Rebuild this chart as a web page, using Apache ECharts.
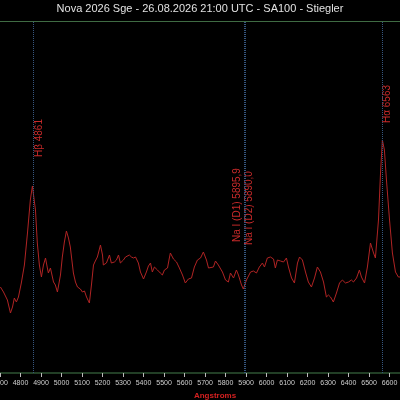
<!DOCTYPE html>
<html>
<head>
<meta charset="utf-8">
<script src="https://cdn.jsdelivr.net/npm/echarts@6/dist/echarts.min.js"></script>
<style>
  html, body { margin: 0; padding: 0; background: #000; }
  #nova-spectrum { width: 400px; height: 400px; }
</style>
</head>
<body>
<div id="nova-spectrum"></div>
<script>
// wavelength (Angstrom) and relative flux
var wavelengths = [
  4702, 4717, 4736, 4751, 4761, 4770, 4780, 4790, 4804, 4819, 4834, 4848, 4858, 4863, 4873, 4882,
  4892, 4902, 4912, 4922, 4931, 4936, 4946, 4951, 4961, 4970, 4980, 4995, 5004, 5014, 5024, 5034,
  5043, 5058, 5068, 5078, 5092, 5102, 5112, 5122, 5136, 5146, 5156, 5165, 5175, 5190, 5200, 5204,
  5219, 5234, 5243, 5258, 5268, 5278, 5287, 5302, 5312, 5321, 5331, 5341, 5351, 5361, 5375, 5385,
  5400, 5414, 5424, 5434, 5443, 5453, 5468, 5482, 5492, 5502, 5517, 5526, 5531, 5546, 5561, 5575,
  5590, 5604, 5619, 5634, 5648, 5663, 5678, 5692, 5707, 5717, 5726, 5741, 5751, 5765, 5785, 5800,
  5814, 5824, 5839, 5853, 5863, 5878, 5887, 5902, 5922, 5936, 5951, 5965, 5980, 5990, 6004, 6019,
  6034, 6043, 6053, 6068, 6083, 6097, 6107, 6122, 6136, 6151, 6161, 6175, 6190, 6204, 6219, 6234,
  6248, 6263, 6278, 6292, 6302, 6312, 6326, 6341, 6356, 6370, 6385, 6400, 6414, 6424, 6439, 6453,
  6463, 6478, 6492, 6507, 6522, 6531, 6546, 6556, 6565, 6575, 6585, 6600, 6614, 6629, 6643, 6653
];
var flux = [
  0.86, 0.81, 0.73, 0.60, 0.66, 0.75, 0.71, 0.76, 0.90, 1.08, 1.40, 1.73, 1.87, 1.85, 1.63, 1.30,
  1.08, 0.96, 1.08, 1.15, 1.05, 1.00, 1.05, 1.03, 0.91, 0.88, 0.81, 0.98, 1.16, 1.31, 1.42, 1.35,
  1.26, 1.00, 0.91, 0.86, 0.84, 0.81, 0.82, 0.76, 0.70, 0.88, 1.08, 1.12, 1.16, 1.28, 1.18, 1.08,
  1.10, 1.18, 1.10, 1.11, 1.13, 1.18, 1.10, 1.13, 1.16, 1.15, 1.18, 1.16, 1.15, 1.16, 1.10, 1.01,
  0.94, 1.01, 1.07, 1.10, 1.01, 1.06, 1.03, 1.00, 0.98, 1.03, 1.05, 1.15, 1.20, 1.14, 1.11, 1.05,
  0.98, 0.90, 0.94, 0.95, 1.06, 1.13, 1.15, 1.21, 1.13, 1.05, 1.07, 1.06, 1.12, 1.08, 1.01, 0.93,
  0.91, 1.00, 0.95, 1.03, 0.98, 0.88, 0.84, 0.93, 1.01, 1.02, 1.00, 1.06, 1.10, 1.06, 1.15, 1.16,
  1.14, 1.05, 1.13, 1.12, 1.11, 1.15, 1.06, 0.95, 0.90, 1.10, 1.16, 1.13, 1.01, 0.91, 0.86, 0.95,
  1.06, 1.01, 0.91, 0.76, 0.78, 0.76, 0.71, 0.80, 0.90, 0.93, 0.90, 0.91, 0.93, 0.91, 0.95, 1.03,
  0.96, 0.90, 1.06, 1.30, 1.20, 1.15, 1.53, 2.00, 2.33, 2.23, 1.93, 1.53, 1.20, 1.01, 0.96, 0.96
];

// identified lines
var lineNames = ['H\u03b2 4861', 'Na I (D1) 5895,9', 'Na I (D2) 5890,0', 'H\u03b1 6563'];
var lineWaves = [4861, 5895.9, 5890.0, 6563];
var labelBase = [2.16, 1.31, 1.28, 2.50];   // flux level where each label starts
var labelDx = [6, -8, 5, 5];                // px shift of label beside its line

var chart = echarts.init(document.getElementById('nova-spectrum'));

var spectrum = wavelengths.map(function (w, i) { return [w, flux[i]]; });
var labelData = lineWaves.map(function (w, i) { return [w, labelBase[i], i]; });
var markStyle = { color: '#36567e', type: 'dotted', width: 1 };

var option = {
  backgroundColor: '#000',
  animation: false,
  title: {
    text: 'Nova 2026 Sge - 26.08.2026 21:00 UTC - SA100 - Stiegler',
    left: 'center',
    top: 0,
    padding: [3, 5, 3, 15],
    textStyle: { color: '#e2e2e2', fontSize: 11, fontWeight: 'normal', fontFamily: 'Liberation Sans' }
  },
  grid: { left: 0, right: 0, top: 21, bottom: 27, outerBoundsMode: 'none', containLabel: false },
  xAxis: [{
    type: 'value',
    min: 4700,
    max: 6651,
    interval: 100,
    name: 'Angstroms',
    nameLocation: 'middle',
    nameGap: 17,
    nameTextStyle: { color: '#d42020', fontSize: 8, fontWeight: 'bold', fontFamily: 'Liberation Sans', padding: [0, 0, 0, 30] },
    axisLine: { lineStyle: { color: '#223f26', width: 2 } },
    axisTick: { length: 4, lineStyle: { color: '#bbbbbb' } },
    axisLabel: {
      color: '#cfcfcf', fontSize: 7, margin: 7, fontFamily: 'Liberation Sans',
      showMaxLabel: false,
      formatter: function (v) { return v % 100 === 0 ? String(v) : ''; }
    },
    splitLine: { show: false }
  }, {
    type: 'value',
    position: 'top',
    min: 4700,
    max: 6651,
    axisLine: { lineStyle: { color: '#3f6b43', width: 1 } },
    axisTick: { show: false },
    axisLabel: { show: false },
    splitLine: { show: false }
  }],
  yAxis: {
    type: 'value',
    min: 0,
    max: 3.52,
    show: false
  },
  series: [{
    type: 'line',
    data: spectrum,
    showSymbol: false,
    lineStyle: { color: '#b02424', width: 1 },
    markLine: {
      silent: true,
      symbol: 'none',
      label: { show: false },
      lineStyle: markStyle,
      emphasis: { disabled: true },
      data: lineWaves.map(function (w) { return { xAxis: w, lineStyle: markStyle }; })
    }
  }, {
    type: 'custom',
    data: labelData,
    renderItem: function (params, api) {
      var p = api.coord([api.value(0), api.value(1)]);
      var i = api.value(2);
      return {
        type: 'text',
        x: p[0] + labelDx[i],
        y: p[1],
        rotation: Math.PI / 2,
        style: {
          text: lineNames[i],
          fill: '#c82a2a',
          font: '10px "Liberation Sans"',
          align: 'left',
          verticalAlign: 'middle'
        }
      };
    }
  }]
};

chart.setOption(option);
</script>
</body>
</html>
